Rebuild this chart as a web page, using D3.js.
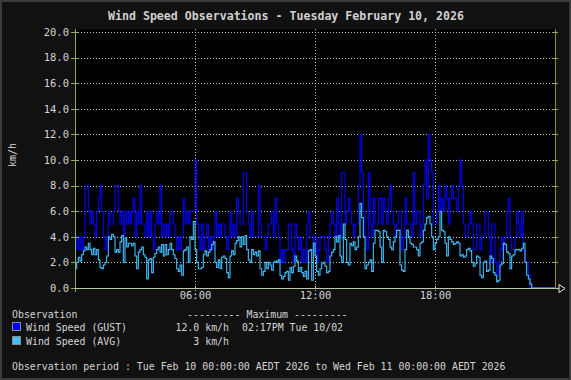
<!DOCTYPE html>
<html>
<head>
<meta charset="utf-8">
<script src="https://cdn.jsdelivr.net/npm/d3@7"></script>
<style>
html,body{margin:0;padding:0;background:#3a3a3a;}
svg{display:block;}
text{font-family:"DejaVu Sans Mono",monospace;fill:#d4d4d4;}
</style>
</head>
<body>
<svg id="chart" width="571" height="380"></svg>
<script>
// ---- data (5-minute samples, one row per hour) ----
const title = "Wind Speed Observations - Tuesday February 10, 2026";
const yTicks = [0,2,4,6,8,10,12,14,16,18,20];
const xTickHours = [6,12,18];
const xTickLabels = ["06:00","12:00","18:00"];
const yLabel = "km/h";

const gustByHour = [
 [3,4,3,4,3,4,8,8,6,5,6,5],
 [4,6,7,8,6,4,3,4,6,5,5,6],
 [8,8,6,5,6,4,6,5,6,5,6,7],
 [4,6,5,8,5,5,4,6,4,6,4,3],
 [5,6,5,8,4,5,4,5,4,6,6,5],
 [4,3,4,3,4,7,5,6,5,6,6,6],
 [10,5,4,3,5,3,4,5,3,4,3,4],
 [6,4,5,4,5,5,4,3,4,6,4,5],
 [4,7,6,5,5,9,9,6,5,4,6,4],
 [4,4,8,5,4,4,3,4,5,5,6,4],
 [7,5,4,2,3,2,3,3,5,5,3,2],
 [5,4,3,4,2,3,2,5,6,4,4,3],
 [4,2,3,4,4,4,3,2,4,5,6,5],
 [4,7,5,4,9,9,5,6,7,6,5,4],
 [5,5,8,12,9,6,4,3,9,5,4,7],
 [5,5,7,7,5,7,6,5,7,8,6,5],
 [4,5,6,6,3,4,7,5,5,5,4,9],
 [5,6,6,4,5,8,10,7,12,10,9,5],
 [5,6,8,6,7,6,8,7,5,7,8,7],
 [7,6,8,10,8,5,4,4,5,6,5,3],
 [3,5,5,3,4,4,6,6,4,2,5,5],
 [2,1,2,3,4,3,4,6,7,4,3,3],
 [4,6,5,4,6,3,2,2,1,0,0,0],
 [0,0,0,0,0,0,0,0,0,0,0,0,0]
];
const avgByHour = [
 [1.5,2.0,2.4,2.1,2.6,2.9,3.2,3.0,3.5,3.0,2.6,3.1],
 [2.6,3.0,2.2,1.6,1.5,1.8,2.0,2.5,4.0,3.8,4.2,4.0],
 [2.8,3.0,2.8,3.6,4.1,2.0,3.9,3.2,3.5,3.5,3.3,3.5],
 [2.5,1.5,2.8,3.0,3.2,2.6,2.4,0.7,2.2,2.3,1.2,2.4],
 [2.7,3.0,3.2,2.8,3.4,2.5,3.4,2.6,3.0,3.5,3.0,2.6],
 [2.3,1.5,1.3,1.8,1.0,2.9,3.0,3.2,2.0,4.0,3.8,5.2],
 [3.0,2.0,1.5,1.5,1.6,2.6,2.9,2.5,2.8,3.0,3.4,3.6],
 [2.0,1.6,2.2,1.5,2.4,2.5,2.3,1.2,0.8,2.5,2.9,2.6],
 [3.5,3.7,4.0,3.2,4.0,3.4,4.1,3.0,2.2,2.0,3.0,2.6],
 [2.8,2.5,2.9,1.5,1.0,1.3,2.0,1.5,2.0,1.8,1.4,2.0],
 [2.1,2.0,2.2,1.0,0.7,0.9,1.2,1.3,0.6,1.6,1.2,1.7],
 [2.5,2.1,1.3,1.6,1.2,0.9,1.3,0.7,2.9,3.0,0.6,3.5],
 [2.5,1.3,1.0,1.5,1.9,2.0,1.7,1.2,1.3,2.5,2.8,3.0],
 [4.0,3.6,4.1,2.5,2.0,5.0,3.8,2.0,1.8,3.5,3.3,3.6],
 [3.0,3.2,4.0,6.6,5.5,4.0,1.5,1.8,2.0,2.2,1.3,3.5],
 [4.5,4.5,4.4,3.2,2.0,4.5,4.4,4.0,3.8,3.2,3.0,3.6],
 [4.0,4.5,4.5,1.8,1.4,1.3,3.0,4.5,4.0,3.5,3.4,3.2],
 [3.2,3.0,2.5,3.5,3.6,4.5,5.0,5.5,5.6,5.0,4.0,3.0],
 [3.5,3.8,4.0,6.0,4.5,4.4,3.5,2.5,4.0,3.8,3.6,3.4],
 [3.5,3.6,3.5,2.5,2.6,2.4,2.5,3.0,3.1,2.9,2.0,1.7],
 [1.9,2.5,2.4,1.0,0.8,2.0,2.1,1.3,1.4,2.5,2.3,1.2],
 [1.0,0.5,0.6,1.8,1.9,3.5,3.4,2.8,2.7,1.5,2.5,2.6],
 [3.0,3.0,3.0,2.9,3.1,3.5,2.0,1.0,0.7,0.3,0,0],
 [0,0,0,0,0,0,0,0,0,0,0,0,0]
];
const legendRows = [
  {name:"Wind Speed (GUST)", max:"12.0 km/h", when:"02:17PM Tue 10/02", color:"#0000ff"},
  {name:"Wind Speed (AVG)",  max:"3 km/h",    when:"",                   color:"#40c0ff"}
];
const periodText = "Observation period : Tue Feb 10 00:00:00 AEDT 2026 to Wed Feb 11 00:00:00 AEDT 2026";

// ---- build ----
const gust = gustByHour.flat().map((v,i)=>({t:i/12, v}));
const avg  = avgByHour.flat().map((v,i)=>({t:i/12, v}));

const svg = d3.select("#chart");
const L=75, R=555, T=32, B=288;
const x = d3.scaleLinear().domain([0,24]).range([L,R]);
const y = d3.scaleLinear().domain([0,20]).range([B,T]);

svg.append("rect").attr("x",2).attr("y",2).attr("width",567).attr("height",376).attr("fill","#111111");
svg.append("rect").attr("x",L).attr("y",29).attr("width",R-L).attr("height",B-29).attr("fill","#000000");

svg.append("text").attr("x",286).attr("y",20).attr("text-anchor","middle")
  .style("font-size","11.6px").style("font-weight","bold").style("fill","#d0d0d0").text(title);

const grid = svg.append("g").attr("shape-rendering","crispEdges");
// horizontal grid
grid.selectAll("line.hg").data(yTicks.filter(d=>d>0)).join("line")
  .attr("x1",L).attr("x2",R).attr("y1",d=>Math.round(y(d))+0.5).attr("y2",d=>Math.round(y(d))+0.5)
  .attr("stroke","#b4d0a0").attr("stroke-dasharray","1,2");
// vertical grid
grid.selectAll("line.vg").data(xTickHours).join("line")
  .attr("x1",d=>Math.round(x(d))+0.5).attr("x2",d=>Math.round(x(d))+0.5).attr("y1",29).attr("y2",B)
  .attr("stroke","#b4d0a0").attr("stroke-dasharray","1,2");

// lines
const line = d3.line().x(d=>x(d.t)).y(d=>y(d.v)).curve(d3.curveStepAfter);
svg.append("path").datum(gust).attr("d",line).attr("fill","none").attr("stroke","#0000ff").attr("stroke-width",1.1);
svg.append("path").datum(avg).attr("d",line).attr("fill","none").attr("stroke","#40c0ff").attr("stroke-width",1.1);

// axes
const ax = svg.append("g").attr("shape-rendering","crispEdges");
ax.append("line").attr("x1",L+0.5).attr("x2",L+0.5).attr("y1",29).attr("y2",B+4).attr("stroke","#80b060");
ax.append("line").attr("x1",R+0.5).attr("x2",R+0.5).attr("y1",29).attr("y2",B).attr("stroke","#8c8c40");
ax.selectAll("line.yt").data(yTicks).join("line")
  .attr("x1",L-4).attr("x2",L+4).attr("y1",d=>Math.round(y(d))+0.5).attr("y2",d=>Math.round(y(d))+0.5)
  .attr("stroke","#80b060");
ax.selectAll("line.yr").data(yTicks.filter(d=>d>0)).join("line")
  .attr("x1",R-3).attr("x2",R+3).attr("y1",d=>Math.round(y(d))+0.5).attr("y2",d=>Math.round(y(d))+0.5)
  .attr("stroke","#80b060");
ax.append("line").attr("x1",L).attr("x2",R+4).attr("y1",B+0.5).attr("y2",B+0.5).attr("stroke","#b8c8a8");
ax.selectAll("line.xt").data(xTickHours).join("line")
  .attr("x1",d=>Math.round(x(d))+0.5).attr("x2",d=>Math.round(x(d))+0.5).attr("y1",B-4).attr("y2",B+4)
  .attr("stroke","#b4d0a0").attr("stroke-dasharray","1,1");
svg.append("path").attr("d",`M${R+4},${B-3.5}L${R+10},${B+0.5}L${R+4},${B+4.5}Z`)
  .attr("fill","none").attr("stroke","#e8e8e8");

// y labels via axis
const yAxis = d3.axisLeft(y).tickValues(yTicks).tickFormat(d3.format(".1f")).tickSize(0).tickPadding(0);
const gy = svg.append("g").attr("transform",`translate(${L-6},0)`).call(yAxis);
gy.select(".domain").remove();
gy.selectAll("text").style("font-size","10.5px").style("fill","#d4d4d4").attr("font-family",null);

const xAxis = d3.axisBottom(x).tickValues(xTickHours).tickFormat((d,i)=>xTickLabels[i]).tickSize(0).tickPadding(0);
const gx = svg.append("g").attr("transform",`translate(0,${B+4})`).call(xAxis);
gx.select(".domain").remove();
gx.selectAll("text").style("font-size","10.5px").style("fill","#d4d4d4").attr("font-family",null);

svg.append("text").attr("transform","translate(16,155) rotate(-90)").attr("text-anchor","middle")
  .style("font-size","10px").text(yLabel);

// legend
const fs = "9.9px";
svg.append("text").attr("x",12).attr("y",318).style("font-size",fs).text("Observation");
svg.append("text").attr("x",187).attr("y",318).style("font-size",fs).text("--------- Maximum ---------");
legendRows.forEach((r,i)=>{
  const yy = 331 + i*13.5;
  svg.append("rect").attr("x",12.5).attr("y",yy-8.5).attr("width",8).attr("height",8)
    .attr("fill",r.color).attr("stroke","#8a8a8a").attr("shape-rendering","crispEdges");
  svg.append("text").attr("x",26).attr("y",yy).style("font-size",fs).text(r.name);
  svg.append("text").attr("x",229).attr("y",yy).attr("text-anchor","end").style("font-size",fs).text(r.max);
  svg.append("text").attr("x",242).attr("y",yy).style("font-size",fs).text(r.when);
});
svg.append("text").attr("x",12).attr("y",370).style("font-size",fs).text(periodText);
</script>
</body>
</html>
